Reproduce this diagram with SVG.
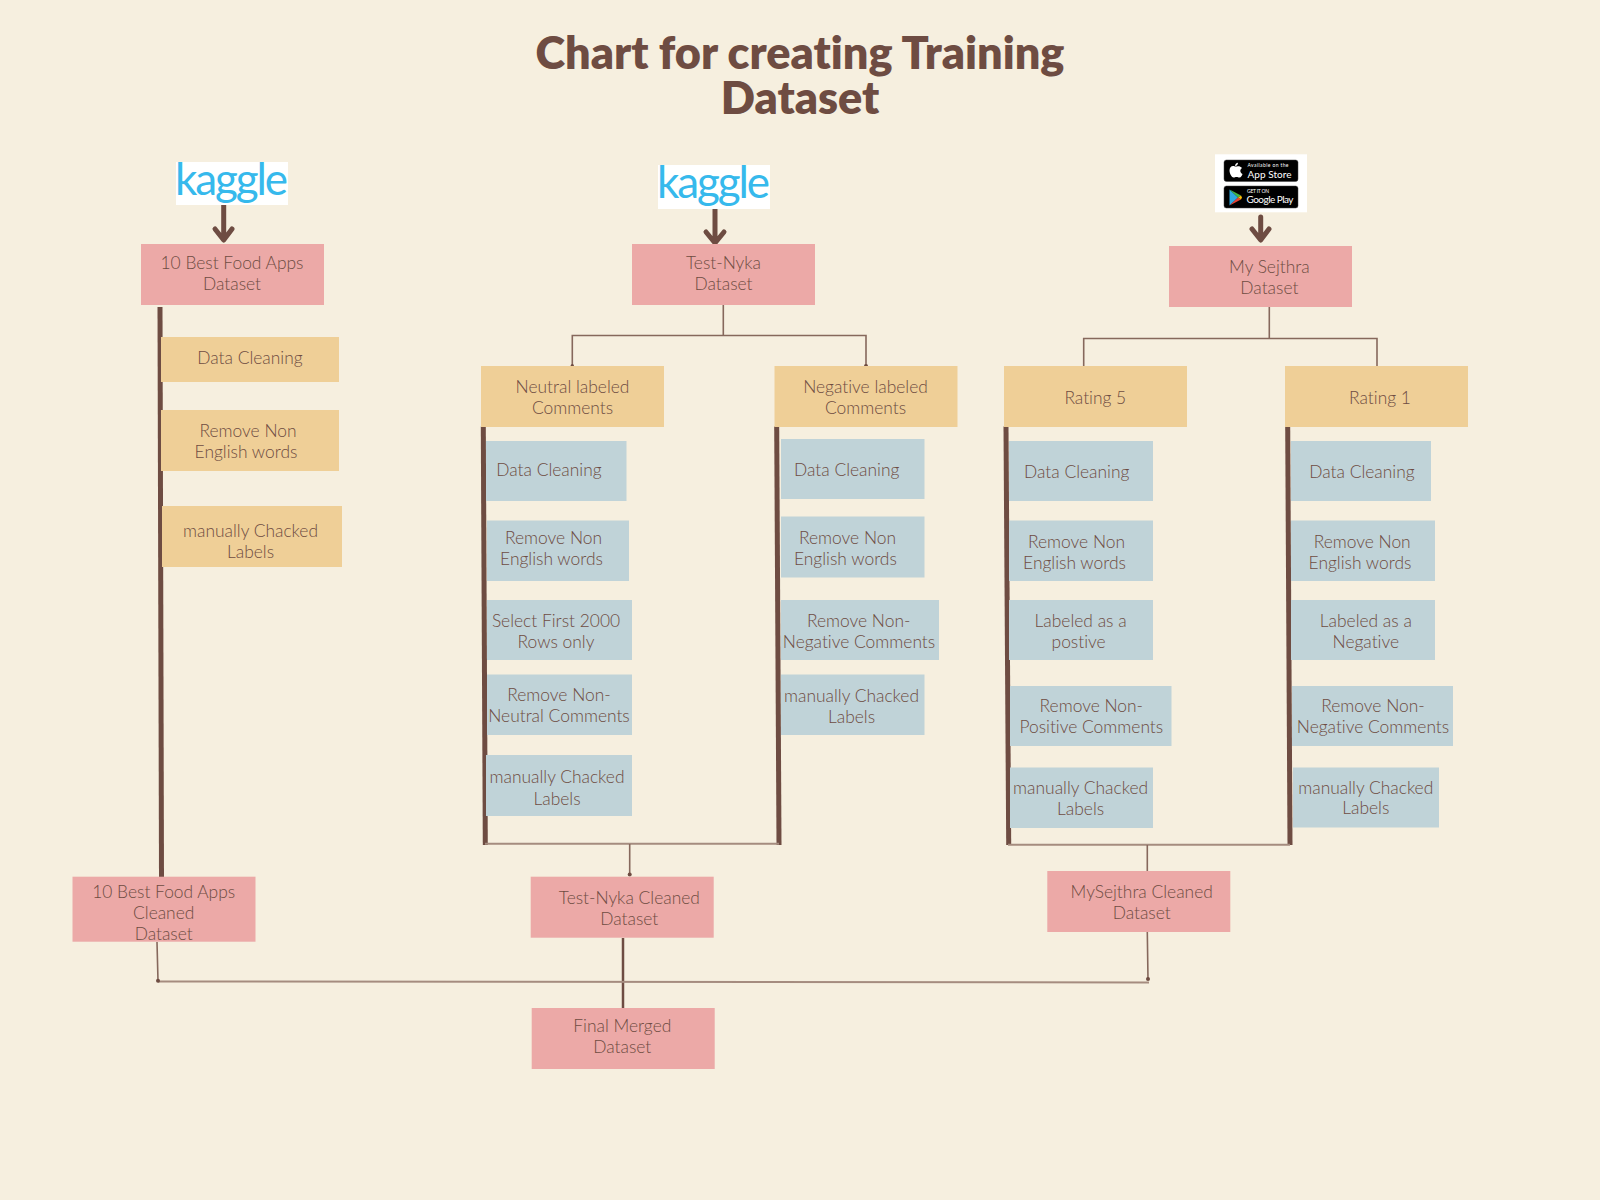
<svg xmlns="http://www.w3.org/2000/svg" width="1600" height="1200" viewBox="0 0 1600 1200">
<style>
.pink{fill:#eca9a7}.orange{fill:#efcf97}.blue{fill:#c0d3d8}
text{font-family:"Lato","Liberation Sans",sans-serif;fill:#6e4c42;text-anchor:middle;font-size:17.4px;font-weight:300;font-variant-ligatures:none}
.title{font-size:45px;font-weight:800}
.kag{fill:#36b9ec;font-size:44px;font-weight:400;text-anchor:start}
.thick{stroke:#6e4c42;stroke-width:5;fill:none}
.thin{stroke:#86685c;stroke-width:1.6;fill:none}
.bar{stroke:#a58c7f;stroke-width:2;fill:none}
.arrow{stroke:#6e4c42;stroke-width:5;fill:none;stroke-linecap:round;stroke-linejoin:round}
.dot{fill:#6e4c42}
.badge{fill:#000;stroke:#444;stroke-width:.5}
.bt{fill:#fff;text-anchor:start;font-size:5px;font-weight:400}
.bb{fill:#fff;text-anchor:start;font-size:10px;font-weight:400}
</style>
<rect width="1600" height="1200" fill="#f6efdf"/>
<g id="title"><text class="title" x="800" y="69">Chart for creating Training</text><text class="title" x="800" y="114">Dataset</text></g>
<g id="connectors">
<path class="arrow" d="M223.7 205V238M215 229L223.7 240L232 229"/>
<path class="arrow" d="M715 209V241M706 232L715 243L724 232"/>
<path class="arrow" d="M1260.7 217V238M1252 229L1260.7 240L1269 229"/>
<path class="thick" d="M160 307L161.5 877"/>
<path class="thick" d="M483.3 426.5L485.3 845"/>
<path class="thick" d="M776.7 426.5L779 845"/>
<path class="thick" d="M1006 426.5L1008.7 845"/>
<path class="thick" d="M1287.7 426.5L1290 845"/>
<path class="bar" d="M485 843.8H779M1008 844.8H1290"/>
<path class="thin" d="M723.3 305V335.5M572.3 366V335.5H866V366M1269.3 307V338.5M1083.7 368V338.5H1377V368"/>
<path class="thin" d="M629.7 844V874M1147.3 845V875"/>
<path class="thick" style="stroke-width:2.5" d="M623 938V1008"/>
<path class="bar" d="M158 981.5L1149 982.5"/>
<path class="thin" d="M157 942L158 981M1147.3 932L1148 979"/>
<circle class="dot" cx="866" cy="366" r="2"/><circle class="dot" cx="572.3" cy="365.5" r="1.6"/>
<circle class="dot" cx="1083.7" cy="368" r="2"/><circle class="dot" cx="1377" cy="368.5" r="2"/>
<circle class="dot" cx="629.7" cy="874.5" r="2"/><circle class="dot" cx="1147.3" cy="875" r="2"/>
<circle class="dot" cx="158" cy="980.7" r="2"/><circle class="dot" cx="1148" cy="979" r="2"/>
</g>
<g id="logo-kaggle-1"><rect x="176" y="162" width="112" height="43" fill="#fff"/><text class="kag" x="175" y="195" textLength="113">kaggle</text></g>
<g id="logo-kaggle-2"><rect x="658" y="165" width="112" height="44" fill="#fff"/><text class="kag" x="657" y="198" textLength="113">kaggle</text></g>
<g id="logo-stores"><rect x="1215" y="154.3" width="92" height="58" fill="#fff"/>
<rect class="badge" x="1224" y="160" width="74" height="21.5" rx="2.5"/>
<path fill="#fff" d="M1235 166.5c-3-1.5-5.500.5-5.500 4s2.500 7 4 7 1.500-.5 3-.5 1.500.5 3 .5 2.500-2 3-3.500c-2.500-1-3-4.500-.5-6-1.500-2-4-2-5-1.500zM1235 166c0-2 1.500-3 3-3.300 0 2-1.500 3.300-3 3.300z"/>
<text class="bt" x="1247.500" y="167" textLength="41">Available on the</text><text class="bb" x="1247.500" y="177.500" textLength="44">App Store</text>
<rect class="badge" x="1224" y="186" width="74" height="22" rx="2.500"/>
<path fill="#2fa8e0" d="M1229.500 189.500L1238 197.500L1229.500 205.500z"/><path fill="#42b649" d="M1229.500 189.500L1241 195.500L1238 197.500z"/><path fill="#ea4335" d="M1229.500 205.500L1241 199.500L1238 197.500z"/><path fill="#fbbc05" d="M1241 195.500L1242 197.500L1241 199.500L1238 197.500z"/>
<text class="bt" x="1247" y="193" textLength="22">GET IT ON</text><text class="bb" x="1246.500" y="203" textLength="47">Google Play</text></g>

<g id="n-food"><rect class="pink" x="141" y="244" width="183" height="61"/><text x="232" y="269">10 Best Food Apps</text><text x="232" y="290">Dataset</text></g>
<g id="n-nyka"><rect class="pink" x="632" y="244" width="183" height="61"/><text x="723.500" y="269">Test-Nyka</text><text x="723.500" y="290">Dataset</text></g>
<g id="n-sejthra"><rect class="pink" x="1169" y="246" width="183" height="61"/><text x="1269.400" y="273">My Sejthra</text><text x="1269.400" y="294">Dataset</text></g>

<g id="f1"><rect class="orange" x="161" y="337" width="178" height="45"/><text x="250" y="364">Data Cleaning</text></g>
<g id="f2"><rect class="orange" x="161" y="410" width="178" height="61"/><text x="248" y="437">Remove Non</text><text x="246" y="458">English words</text></g>
<g id="f3"><rect class="orange" x="162" y="506" width="180" height="61"/><text x="250.500" y="537">manually Chacked</text><text x="250.500" y="558">Labels</text></g>

<g id="n-neutral"><rect class="orange" x="481" y="366" width="183" height="61"/><text x="572.500" y="393">Neutral labeled</text><text x="572.500" y="414">Comments</text></g>
<g id="n-negative"><rect class="orange" x="774.500" y="366" width="183" height="61"/><text x="865.500" y="393">Negative labeled</text><text x="865.500" y="414">Comments</text></g>
<g id="n-r5"><rect class="orange" x="1004" y="366" width="183" height="61"/><text x="1095.300" y="404">Rating 5</text></g>
<g id="n-r1"><rect class="orange" x="1285" y="366" width="183" height="61"/><text x="1380" y="404">Rating 1</text></g>

<g id="a1"><rect class="blue" x="486" y="441" width="140.500" height="60"/><text x="549" y="476">Data Cleaning</text></g>
<g id="a2"><rect class="blue" x="487" y="520.500" width="142" height="60.500"/><text x="553.500" y="544">Remove Non</text><text x="551.500" y="564.500">English words</text></g>
<g id="a3"><rect class="blue" x="487" y="600" width="145" height="60"/><text x="556" y="627">Select First 2000</text><text x="556" y="648">Rows only</text></g>
<g id="a4"><rect class="blue" x="487" y="674.500" width="145" height="60.500"/><text x="559" y="701">Remove Non-</text><text x="559" y="722">Neutral Comments</text></g>
<g id="a5"><rect class="blue" x="486" y="755" width="146" height="61"/><text x="557" y="783">manually Chacked</text><text x="557" y="804.500">Labels</text></g>

<g id="b1"><rect class="blue" x="781" y="439" width="143.500" height="60"/><text x="846.700" y="476">Data Cleaning</text></g>
<g id="b2"><rect class="blue" x="781" y="516.500" width="143.500" height="61"/><text x="847.500" y="544">Remove Non</text><text x="845.400" y="564.500">English words</text></g>
<g id="b3"><rect class="blue" x="781" y="600" width="158" height="60"/><text x="858.700" y="627">Remove Non-</text><text x="859" y="648">Negative Comments</text></g>
<g id="b4"><rect class="blue" x="781" y="674.500" width="143.500" height="60.500"/><text x="851.500" y="701.500">manually Chacked</text><text x="851.500" y="722.500">Labels</text></g>

<g id="c1"><rect class="blue" x="1009" y="441" width="144" height="60"/><text x="1076.700" y="478">Data Cleaning</text></g>
<g id="c2"><rect class="blue" x="1009" y="520.500" width="144" height="60.500"/><text x="1076.500" y="548">Remove Non</text><text x="1074.500" y="568.500">English words</text></g>
<g id="c3"><rect class="blue" x="1009" y="600" width="144" height="60"/><text x="1080.600" y="627">Labeled as a</text><text x="1078.600" y="648">postive</text></g>
<g id="c4"><rect class="blue" x="1010" y="686" width="161.500" height="60"/><text x="1091.300" y="712">Remove Non-</text><text x="1091.300" y="733">Positive Comments</text></g>
<g id="c5"><rect class="blue" x="1010" y="767.500" width="143" height="60.500"/><text x="1080.600" y="794">manually Chacked</text><text x="1080.600" y="814.500">Labels</text></g>

<g id="d1"><rect class="blue" x="1291" y="441" width="140" height="60"/><text x="1362" y="478">Data Cleaning</text></g>
<g id="d2"><rect class="blue" x="1291" y="520.500" width="144" height="60.500"/><text x="1362.200" y="548">Remove Non</text><text x="1360" y="568.500">English words</text></g>
<g id="d3"><rect class="blue" x="1291" y="600" width="144" height="60"/><text x="1365.800" y="627">Labeled as a</text><text x="1365.800" y="648">Negative</text></g>
<g id="d4"><rect class="blue" x="1292" y="686" width="161" height="60"/><text x="1373" y="712">Remove Non-</text><text x="1373" y="733">Negative Comments</text></g>
<g id="d5"><rect class="blue" x="1293" y="767.500" width="146" height="60"/><text x="1365.800" y="794">manually Chacked</text><text x="1365.800" y="813.500">Labels</text></g>

<g id="n-clean1"><rect class="pink" x="72.500" y="876.700" width="183" height="65"/><text x="163.700" y="898">10 Best Food Apps</text><text x="163.700" y="919">Cleaned</text><text x="163.700" y="940">Dataset</text></g>
<g id="n-clean2"><rect class="pink" x="530.700" y="876.700" width="183" height="61"/><text x="629.300" y="904">Test-Nyka Cleaned</text><text x="629.300" y="925">Dataset</text></g>
<g id="n-clean3"><rect class="pink" x="1047.300" y="871" width="183" height="61"/><text x="1141.700" y="898">MySejthra Cleaned</text><text x="1141.700" y="919">Dataset</text></g>
<g id="n-final"><rect class="pink" x="531.700" y="1008" width="183" height="61"/><text x="622.300" y="1032">Final Merged</text><text x="622.300" y="1053">Dataset</text></g>
</svg>
